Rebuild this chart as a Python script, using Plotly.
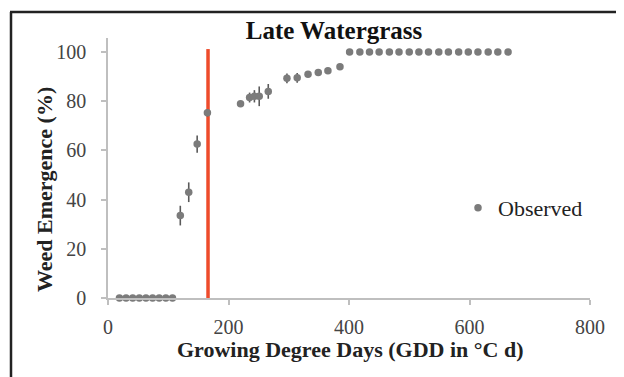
import plotly.graph_objects as go

# Observed weed emergence (GDD, %, error)
gdd = [19, 30, 41, 52, 63, 74, 85, 96, 107,
       120, 134, 148, 165,
       220, 235, 243, 251, 266,
       297, 314, 332, 349, 365, 385,
       401, 418, 434, 450, 467, 483, 500, 516, 532, 549, 565, 582, 598, 614, 631, 647, 664]
emergence = [0, 0, 0, 0, 0, 0, 0, 0, 0,
             33.5, 43, 62.6, 75.3,
             79, 81.5, 82, 82, 84,
             89.3, 89.5, 91, 91.7, 92.4, 94,
             100, 100, 100, 100, 100, 100, 100, 100, 100, 100, 100, 100, 100, 100, 100, 100, 100]
err = [0, 0, 0, 0, 0, 0, 0, 0, 0,
       4, 4, 3.5, 1.5,
       1, 2, 2.5, 4, 3,
       2, 2, 1, 0.8, 0.8, 0.8,
       0, 0, 0, 0, 0, 0, 0, 0, 0, 0, 0, 0, 0, 0, 0, 0, 0]

threshold_x = [166, 166]
threshold_y = [0, 101.2]

x_ticks = [0, 200, 400, 600, 800]
y_ticks = [0, 20, 40, 60, 80, 100]

SERIF = "Liberation Serif, Times New Roman, serif"

# the page body adds an 8px margin around the figure
BODY = 8

fig = go.Figure()
fig.add_trace(go.Scatter(
    x=threshold_x, y=threshold_y, mode="lines",
    line=dict(color="#EE4B2B", width=3.5),
    showlegend=False, hoverinfo="skip", cliponaxis=False))
fig.add_trace(go.Scatter(
    x=gdd, y=emergence, mode="markers", name="Observed",
    marker=dict(color="#7B7B7B", size=7.5),
    error_y=dict(type="data", array=err, color="#5A5A5A", thickness=1.6, width=0),
    cliponaxis=False))


# page pixel -> paper coordinate (plot area spans page x 108..590, y 38..298)
def px_x(p):
    return (p - 108) / 482


def px_y(p):
    return (298 - p) / 260


fig.update_layout(
    width=624, height=377,
    margin=dict(l=108 - BODY, r=624 - 590 + BODY, t=38 - BODY, b=377 - 298 + BODY),
    paper_bgcolor="white", plot_bgcolor="white",
    font=dict(family=SERIF, color="#333"),
    title=dict(text="<b>Late Watergrass</b>", x=px_x(334), xref="paper",
               xanchor="center", y=1 - (30 - BODY) / 377, yref="container", yanchor="middle",
               font=dict(family=SERIF, size=25, color="#111")),
    showlegend=True,
    legend=dict(x=px_x(458), y=px_y(208), xanchor="left", yanchor="middle",
                font=dict(family=SERIF, size=22, color="#222"),
                bgcolor="rgba(0,0,0,0)", itemwidth=30),
    xaxis=dict(range=[0, 800], tickvals=x_ticks, ticktext=[str(v) for v in x_ticks],
               showgrid=False, zeroline=False, showline=True, linecolor="#BFBFBF", linewidth=1.5,
               ticks="outside", ticklen=5, tickcolor="#BFBFBF", tickwidth=1.5,
               tickfont=dict(family=SERIF, size=20, color="#444"), ticklabelstandoff=5),
    yaxis=dict(range=[0, 105.7], tickvals=y_ticks, ticktext=[str(v) for v in y_ticks],
               showgrid=False, zeroline=False, showline=True, linecolor="#BFBFBF", linewidth=1.5,
               ticks="outside", ticklen=5, tickcolor="#BFBFBF", tickwidth=1.5,
               tickfont=dict(family=SERIF, size=20, color="#444"), ticklabelstandoff=11),
)

# axis titles
fig.add_annotation(text="<b>Growing Degree Days (GDD in °C d)</b>", xref="paper", yref="paper",
                   x=px_x(350), y=px_y(349), xanchor="center", yanchor="middle",
                   showarrow=False, font=dict(family=SERIF, size=22, color="#222"))
fig.add_annotation(text="<b>Weed Emergence (%)</b>", xref="paper", yref="paper",
                   x=px_x(45), y=px_y(190), xanchor="center", yanchor="middle", textangle=-90,
                   showarrow=False, font=dict(family=SERIF, size=22, color="#222"))

# outer frame of the original figure
fig.add_shape(type="line", xref="paper", yref="paper",
              x0=px_x(10), x1=px_x(640), y0=px_y(12), y1=px_y(12),
              line=dict(color="#222", width=2.5))
fig.add_shape(type="line", xref="paper", yref="paper",
              x0=px_x(11), x1=px_x(11), y0=px_y(12), y1=px_y(400),
              line=dict(color="#222", width=2.5))
fig.add_shape(type="line", xref="paper", yref="paper",
              x0=px_x(623), x1=px_x(623), y0=px_y(12), y1=px_y(400),
              line=dict(color="#DDDDDD", width=1))

fig.write_html("out.html")
